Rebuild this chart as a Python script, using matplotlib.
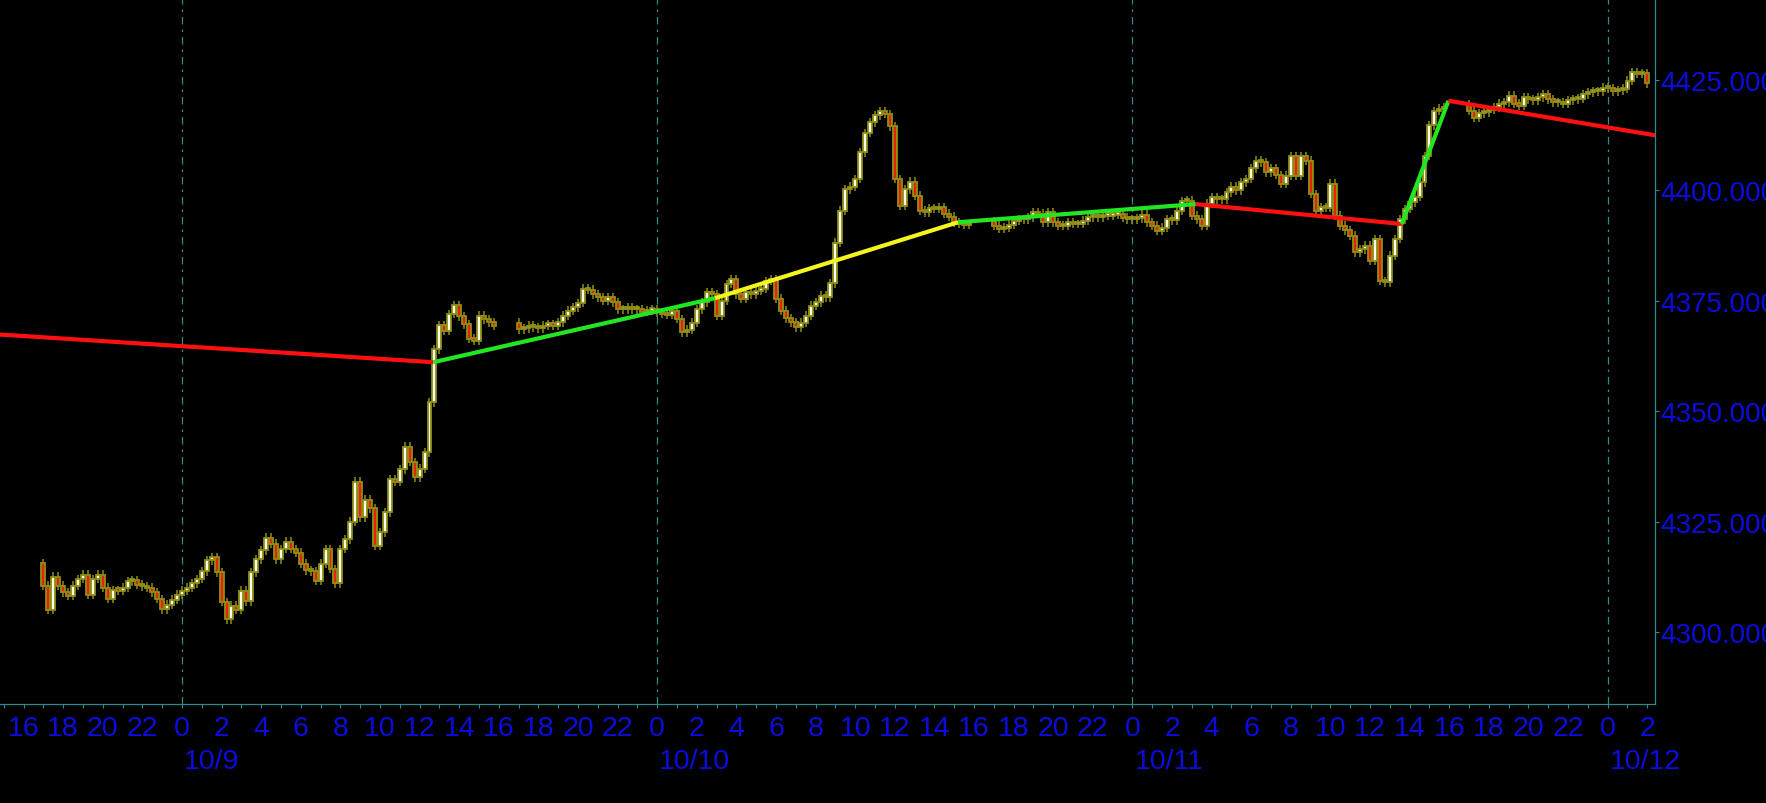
import numpy as np
import matplotlib
matplotlib.use("Agg")
import matplotlib.pyplot as plt
from matplotlib.transforms import blended_transform_factory

plt.rcParams['font.family'] = ['Liberation Sans', 'DejaVu Sans']

# hours are counted from 10/9 00:00, one bar = 15 minutes
BAR_STEP = 0.25

# session start hour and opening price of its first bar
SESSION_STARTS = [-7.0, 17.0, 41.0, 65.0]
SESSION_OPENS = [4315.6, 4370.0, 4393.0, 4419.5]

# closes, 4 bars per row (one hour)
CLOSES_1 = [
    4310.5, 4305.0, 4312.5, 4310.5,
    4309.0, 4308.2, 4310.5, 4312.0,
    4313.0, 4308.5, 4312.0, 4313.0,
    4310.0, 4307.5, 4309.5, 4309.4,
    4310.0, 4311.5, 4311.8, 4310.7,
    4310.4, 4310.0, 4309.0, 4307.5,
    4305.2, 4306.2, 4307.3, 4308.5,
    4309.4, 4310.0, 4311.0, 4312.0,
    4313.8, 4316.3, 4316.9, 4313.5,
    4306.8, 4302.9, 4306.0, 4305.0,
    4309.4, 4307.0, 4313.5, 4316.5,
    4318.5, 4321.4, 4320.0, 4316.5,
    4318.8, 4320.5, 4318.8, 4318.0,
    4315.5, 4314.0, 4313.8, 4311.6,
    4315.5, 4318.8, 4314.3, 4311.0,
    4318.8, 4321.0, 4325.0, 4334.0,
    4326.0, 4330.0, 4328.0, 4319.5,
    4322.6, 4327.1, 4334.6, 4334.0,
    4336.9, 4342.0, 4338.5, 4335.0,
    4337.0, 4340.7, 4352.0, 4364.0,
    4369.5, 4368.2, 4372.0, 4374.0,
    4371.5, 4369.7, 4366.4, 4366.0,
    4371.6, 4370.8, 4370.1, 4369.4,
]
CLOSES_2 = [
    4368.6, 4368.8, 4369.4, 4369.0,
    4368.8, 4369.4, 4369.7, 4369.4,
    4370.1, 4371.6, 4372.8, 4373.5,
    4374.5, 4377.7, 4377.5, 4376.5,
    4375.8, 4375.0, 4375.8, 4374.7,
    4373.1, 4373.1, 4373.4, 4373.1,
    4373.1, 4372.5, 4372.8, 4373.1,
    4372.4, 4372.0, 4371.8, 4372.8,
    4370.9, 4367.9, 4368.5, 4370.0,
    4373.1, 4374.7, 4376.9, 4376.5,
    4371.6, 4375.0, 4378.8, 4379.9,
    4376.5, 4375.4, 4376.9, 4376.5,
    4377.3, 4377.7, 4379.5, 4379.9,
    4375.5, 4372.8, 4371.0, 4370.1,
    4369.0, 4370.0, 4371.6, 4373.9,
    4374.7, 4376.2, 4375.8, 4379.0,
    4388.2, 4395.4, 4400.3, 4400.8,
    4402.6, 4408.6, 4413.0, 4415.4,
    4417.0, 4418.0, 4417.3, 4414.5,
    4402.6, 4396.5, 4400.3, 4402.0,
    4398.8, 4395.4, 4395.0, 4396.0,
    4395.8, 4396.2, 4394.7, 4394.0,
    4392.8, 4392.4, 4392.2, 4392.2,
]
CLOSES_3 = [
    4392.0, 4391.3, 4391.6, 4392.2,
    4393.1, 4393.5, 4393.5, 4393.9,
    4395.0, 4394.7, 4392.8, 4395.0,
    4392.8, 4392.0, 4392.0, 4392.8,
    4392.4, 4392.4, 4393.1, 4393.9,
    4394.3, 4393.9, 4394.3, 4394.3,
    4394.5, 4394.6, 4393.8, 4393.5,
    4393.5, 4393.7, 4394.5, 4392.8,
    4392.0, 4390.9, 4391.6, 4393.5,
    4393.2, 4395.4, 4397.5, 4397.7,
    4394.3, 4393.5, 4392.0, 4397.0,
    4398.4, 4398.0, 4398.0, 4399.6,
    4400.8, 4400.0, 4401.8, 4402.6,
    4405.0, 4406.7, 4406.4, 4404.1,
    4405.0, 4403.5, 4401.5, 4403.3,
    4407.8, 4403.3, 4407.8, 4406.7,
    4399.2, 4395.4, 4396.2, 4396.0,
    4401.5, 4394.3, 4392.0, 4391.0,
    4389.7, 4386.0, 4386.7, 4387.5,
    4384.1, 4389.0, 4379.5, 4379.2,
    4385.2, 4389.0, 4393.5, 4395.8,
    4397.3, 4398.5, 4401.8, 4407.8,
    4414.7, 4418.0, 4418.5, 4418.8,
]
CLOSES_4 = [
    4418.0, 4416.4, 4417.5, 4417.7,
    4418.2, 4418.8, 4419.6, 4420.0,
    4421.4, 4419.6, 4419.2, 4421.1,
    4420.6, 4420.4, 4421.1, 4421.8,
    4420.6, 4420.0, 4420.0, 4419.6,
    4420.4, 4420.6, 4420.8, 4421.8,
    4422.2, 4422.4, 4422.4, 4423.3,
    4423.1, 4422.4, 4422.7, 4423.0,
    4424.8, 4426.7, 4426.4, 4426.5,
    4424.3,
]
SESSIONS = [CLOSES_1, CLOSES_2, CLOSES_3, CLOSES_4]

# trend line vertices (hour, price) and colour of each segment
TREND_X = [-9.3, 12.69, 26.92, 39.2, 51.2, 61.6, 63.96, 74.5]
TREND_Y = [4367.4, 4361.1, 4375.6, 4392.8, 4396.9, 4392.4, 4420.3, 4412.4]
TREND_COLORS = ['#ff1010', '#22e622', '#f4f41e', '#22e622', '#ff1010', '#22e622', '#ff1010']

DAY_STARTS = [0, 24, 48, 72]
DAY_LABELS = ['10/9', '10/10', '10/11', '10/12']
PRICE_TICKS = [4300, 4325, 4350, 4375, 4400, 4425]

BLUE = '#0c0ce0'
TEAL = '#2f8c8c'
OLIVE = '#8f8f16'
UP_BODY = '#fffff0'
DOWN_BODY = '#ec2008'

fig = plt.figure(figsize=(17.66, 8.04), dpi=100, facecolor='black')
ax = fig.add_axes([0, 0.1236, 0.93715, 0.8764])
ax.set_facecolor('black')

for start, first_open, closes in zip(SESSION_STARTS, SESSION_OPENS, SESSIONS):
    t = start + BAR_STEP * np.arange(len(closes))
    c = np.array(closes)
    o = np.concatenate([[first_open], c[:-1]])
    lo = np.minimum(o, c)
    hi = np.maximum(o, c)
    up = c >= o
    ax.vlines(t, lo - 1.0, hi + 1.0, color=OLIVE, linewidth=1.1, zorder=2)
    ax.bar(t, np.maximum(hi - lo, 0.5), bottom=lo, width=0.2,
           color=np.where(up, UP_BODY, DOWN_BODY), edgecolor=OLIVE,
           linewidth=1.3, zorder=3)

for i, col in enumerate(TREND_COLORS):
    ax.plot(TREND_X[i:i + 2], TREND_Y[i:i + 2], color=col, linewidth=3.0,
            solid_capstyle='butt', zorder=5)

for d in DAY_STARTS:
    ax.axvline(d, color=TEAL, linewidth=0.9, dashes=(6, 4, 2, 4), zorder=1)

ax.set_xlim(-9.19, 74.39)
ax.set_ylim(4283.8, 4443.34)

# x axis: hour of day every 2 hours, small tick every hour
major = np.arange(-8, 75, 2)
ax.set_xticks(major)
ax.set_xticklabels([str(int(h % 24)) for h in major])
ax.set_xticks(np.arange(-9, 75, 1), minor=True)
ax.tick_params(axis='x', which='both', colors=TEAL, labelcolor=BLUE,
               labelsize=20.5, length=3, width=0.8, direction='out', pad=5)

ax.yaxis.tick_right()
ax.set_yticks(PRICE_TICKS)
ax.set_yticklabels([f"{v:.3f}" for v in PRICE_TICKS])
ax.tick_params(axis='y', colors=TEAL, labelcolor=BLUE, labelsize=20,
               length=3, width=0.8, pad=1)

for side in ['top', 'left']:
    ax.spines[side].set_visible(False)
for side in ['bottom', 'right']:
    ax.spines[side].set_color(TEAL)
    ax.spines[side].set_linewidth(0.9)

trans = blended_transform_factory(ax.transData, fig.transFigure)
for d, lab in zip(DAY_STARTS, DAY_LABELS):
    ax.text(d + 0.1, 0.0684, lab, transform=trans, ha='left', va='top',
            fontsize=20.5, color=BLUE, clip_on=False)

fig.savefig('out.png', dpi=100, facecolor='black')
